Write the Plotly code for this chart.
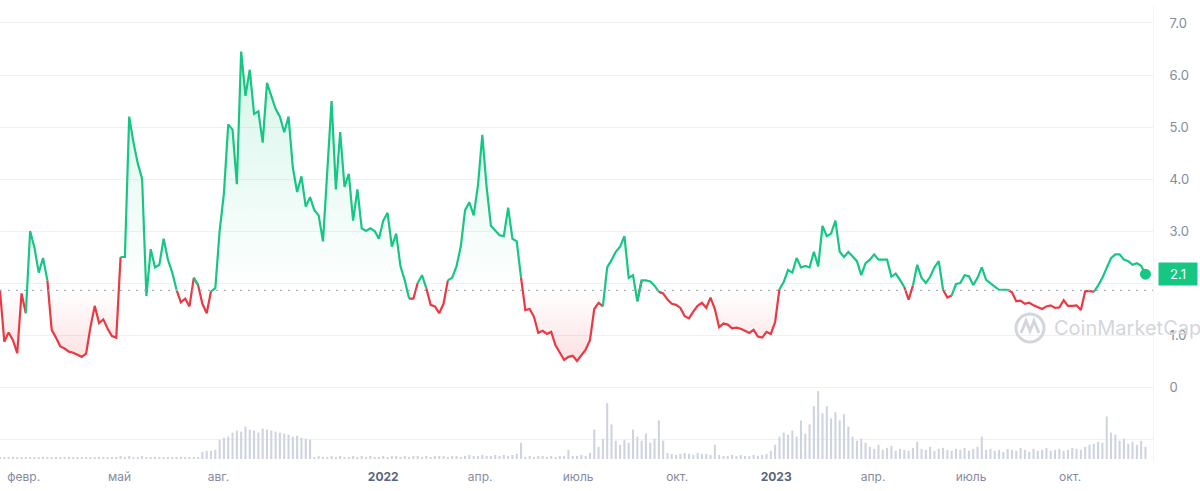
import pandas as pd
import plotly.graph_objects as go

BASE = 1.86
GREEN = "#16c784"
RED = "#ea3943"

# price sampled every 4 days from 2021-01-10
price = [
    1.85, 0.87, 1.05, 0.90, 0.65, 1.80, 1.42, 3.00, 2.68, 2.20,
    2.48, 2.05, 1.10, 0.95, 0.78, 0.74, 0.68, 0.66, 0.62, 0.58,
    0.64, 1.15, 1.56, 1.23, 1.30, 1.12, 0.98, 0.95, 2.50, 2.50,
    5.20, 4.70, 4.30, 4.00, 1.75, 2.65, 2.30, 2.35, 2.85, 2.45,
    2.20, 1.87, 1.63, 1.70, 1.55, 2.10, 1.96, 1.60, 1.42, 1.84,
    1.90, 3.00, 3.73, 5.05, 4.95, 3.90, 6.45, 5.60, 6.10, 5.25,
    5.30, 4.70, 5.85, 5.60, 5.35, 5.20, 4.90, 5.20, 4.22, 3.75,
    4.05, 3.47, 3.65, 3.40, 3.30, 2.80, 4.15, 5.50, 3.80, 4.90,
    3.85, 4.10, 3.20, 3.80, 3.05, 3.00, 3.05, 3.00, 2.85, 3.20,
    3.35, 2.70, 2.95, 2.32, 2.05, 1.70, 1.70, 2.00, 2.15, 1.90,
    1.58, 1.55, 1.42, 1.60, 2.05, 2.10, 2.32, 2.70, 3.40, 3.55,
    3.30, 3.88, 4.85, 3.85, 3.10, 3.02, 2.92, 2.90, 3.45, 2.85,
    2.80, 2.10, 1.48, 1.50, 1.35, 1.04, 1.08, 1.02, 1.06, 0.80,
    0.65, 0.52, 0.58, 0.60, 0.50, 0.60, 0.72, 0.90, 1.50, 1.62,
    1.55, 2.30, 2.44, 2.60, 2.70, 2.90, 2.10, 2.15, 1.65, 2.05,
    2.05, 2.03, 1.95, 1.83, 1.80, 1.68, 1.60, 1.58, 1.52, 1.36,
    1.32, 1.45, 1.56, 1.62, 1.52, 1.72, 1.50, 1.15, 1.22, 1.20,
    1.13, 1.14, 1.12, 1.08, 1.04, 1.10, 0.97, 0.95, 1.06, 1.02,
    1.25, 1.88, 2.02, 2.25, 2.20, 2.48, 2.30, 2.33, 2.30, 2.60,
    2.32, 3.10, 2.90, 2.95, 3.20, 2.60, 2.50, 2.60, 2.50, 2.42,
    2.15, 2.38, 2.45, 2.55, 2.45, 2.45, 2.45, 2.12, 2.18, 2.06,
    1.92, 1.68, 1.95, 2.35, 2.10, 2.00, 2.12, 2.30, 2.42, 1.87,
    1.72, 1.76, 1.98, 2.00, 2.15, 2.13, 1.96, 2.10, 2.30, 2.06,
    1.99, 1.93, 1.87, 1.87, 1.87, 1.82, 1.65, 1.66, 1.60, 1.62,
    1.57, 1.54, 1.50, 1.55, 1.57, 1.52, 1.53, 1.67, 1.56, 1.56,
    1.57, 1.48, 1.84, 1.85, 1.83, 1.95, 2.10, 2.30, 2.48, 2.55,
    2.55, 2.45, 2.42, 2.35, 2.38, 2.33, 2.17,
]

volume = [
    1, 1, 1, 1, 1, 1, 1, 1, 1, 1, 1, 1, 1, 1, 1, 1, 1, 1, 1, 1,
    1, 1, 1, 1, 1, 1,
    2, 2, 3, 2, 3, 2, 2, 3, 2, 2, 2,
    2, 1, 2, 1, 2, 1, 2, 1, 1, 2,
    7, 8, 8, 9,
    19, 21, 22, 26, 28, 27, 32, 29, 28, 26, 30, 29, 28, 27, 26, 25,
    24, 22, 23, 21, 20, 19,
    2, 3, 2, 2, 3, 2, 3, 2, 2, 3, 2, 3, 2, 3, 2, 2, 3, 2, 3, 3,
    2, 3, 2, 3, 3, 2, 3, 2, 3, 3, 3, 2, 3, 3, 2, 3, 4, 3, 3, 4,
    3, 3, 4, 3, 4, 3, 4, 5,
    16,
    2, 3, 2, 3, 3, 2, 3, 2, 3, 3,
    9,
    3, 3, 4, 3,
    6, 29, 12,
    20, 55, 34, 18, 14, 19, 16, 29, 22, 18, 25, 16, 20, 38, 18,
    6, 5, 4, 5, 6, 5, 4, 6, 5, 5, 4,
    14,
    4, 3, 3, 4, 3, 4, 3, 3, 4, 3, 4, 5,
    8, 14, 22, 26, 24, 28, 22, 38, 25, 34, 52, 67, 45, 52, 40, 46,
    38, 44, 32, 22, 18, 20, 16,
    12, 10, 14, 9, 11, 13, 8, 10,
    9, 8, 11, 17, 10, 9, 12, 8, 10, 11, 9, 8, 10,
    9, 11, 8, 10, 12, 22, 9, 10,
    8, 9, 7, 10, 9, 8, 11, 9, 7, 10, 8, 9, 11, 8, 9, 10, 8, 9, 11, 10, 9,
    12, 14, 15, 17,
    16, 42, 26, 24, 18, 20, 15, 17, 14, 18, 12,
]
assert len(price) == len(volume)

dates = pd.date_range("2021-01-10", periods=len(price), freq="4D")

tick_dates = ["2021-02-01", "2021-05-01", "2021-08-01", "2022-01-01", "2022-04-01",
              "2022-07-01", "2022-10-01", "2023-01-01", "2023-04-01", "2023-07-01",
              "2023-10-01"]
tick_labels = ["февр.", "май", "авг.", "2022", "апр.", "июль", "окт.", "2023",
               "апр.", "июль", "окт."]
y_ticks = [-1, 0, 1, 2, 3, 4, 5, 6, 7]
# the 2.0 label sits under the last-price badge, so it is left blank
y_labels = ["", "0", "1.0", "", "3.0", "4.0", "5.0", "6.0", "7.0"]

# plot area in pixels, used for the overlay decorations
PLOT_W, PLOT_TOP, PLOT_BOTTOM = 1153, 5, 462


def px(x):
    return x / PLOT_W


def py(y):
    return (PLOT_BOTTOM - y) / (PLOT_BOTTOM - PLOT_TOP)


def fmt_tick(t):
    if t.isdigit():
        return f"<b><span style='color:#58667e'>{t}</span></b>"
    return t


n = len(price)
seg_up = [(price[i] + price[i + 1]) / 2 >= BASE for i in range(n - 1)]
green_line = [p if (i > 0 and seg_up[i - 1]) or (i < n - 1 and seg_up[i]) else None
              for i, p in enumerate(price)]
red_line = [p if (i > 0 and not seg_up[i - 1]) or (i < n - 1 and not seg_up[i]) else None
            for i, p in enumerate(price)]
upper = [max(p, BASE) for p in price]
lower = [min(p, BASE) for p in price]
base_y = [BASE] * n

fig = go.Figure()
fig.add_trace(go.Scatter(x=dates, y=base_y, mode="lines", line=dict(width=0), hoverinfo="skip"))
fig.add_trace(go.Scatter(
    x=dates, y=upper, mode="lines", line=dict(width=0), fill="tonexty", hoverinfo="skip",
    fillgradient=dict(type="vertical", start=BASE, stop=6.5,
                      colorscale=[[0, "rgba(22,199,132,0.0)"], [1, "rgba(22,199,132,0.18)"]]),
))
fig.add_trace(go.Scatter(x=dates, y=base_y, mode="lines", line=dict(width=0), hoverinfo="skip"))
fig.add_trace(go.Scatter(
    x=dates, y=lower, mode="lines", line=dict(width=0), fill="tonexty", hoverinfo="skip",
    fillgradient=dict(type="vertical", start=0.45, stop=BASE,
                      colorscale=[[0, "rgba(234,57,67,0.16)"], [1, "rgba(234,57,67,0.0)"]]),
))
fig.add_trace(go.Bar(x=dates, y=volume, yaxis="y2", marker=dict(color="#cdd3df", line_width=0),
                     width=1.9 * 86400000, hoverinfo="skip"))
fig.add_trace(go.Scatter(x=dates, y=red_line, mode="lines", line=dict(color=RED, width=2.2),
                         connectgaps=False, hoverinfo="skip"))
fig.add_trace(go.Scatter(x=dates, y=green_line, mode="lines", line=dict(color=GREEN, width=2.2),
                         connectgaps=False, hoverinfo="skip"))
fig.add_trace(go.Scatter(x=[dates[-1]], y=[price[-1]], mode="markers",
                         marker=dict(color=GREEN, size=11), hoverinfo="skip"))

# dotted reference line at the period open price
fig.add_shape(type="line", xref="paper", x0=0, x1=1, yref="y", y0=BASE, y1=BASE,
              line=dict(color="#a9aeb8", width=1.3, dash="2px,6px"))

# watermark
fig.add_shape(type="circle", xref="paper", yref="paper",
              x0=px(1016), x1=px(1044), y0=py(342), y1=py(314),
              line=dict(color="#d3d6dc", width=3))
fig.add_shape(type="path", xref="paper", yref="paper",
              path=(f"M {px(1021)},{py(333)} L {px(1026)},{py(321)} L {px(1030)},{py(331)} "
                    f"L {px(1034)},{py(321)} L {px(1039)},{py(333)}"),
              line=dict(color="#d3d6dc", width=3))
fig.add_annotation(text="CoinMarketCap", xref="paper", yref="paper", x=px(1052), y=py(328),
                   xanchor="left", yanchor="middle", showarrow=False,
                   font=dict(family="Inter", size=20, color="#d3d6dc"))

# last price badge
fig.add_annotation(text="2.1", xref="paper", yref="y", x=px(1158), y=price[-1],
                   xanchor="left", yanchor="middle", showarrow=False,
                   bgcolor=GREEN, width=34, height=18, borderpad=2, align="center",
                   font=dict(family="Inter", size=13, color="white"))

fig.update_layout(
    width=1200, height=491,
    margin=dict(l=0, r=47, t=5, b=29),
    paper_bgcolor="white", plot_bgcolor="white",
    showlegend=False,
    font=dict(family="Inter, sans-serif", color="#858ca2", size=13),
    xaxis=dict(type="date", range=["2021-01-10", "2023-12-17"],
               tickvals=tick_dates, ticktext=[fmt_tick(t) for t in tick_labels],
               showgrid=False, zeroline=False, showline=False, ticks="",
               ticklabelstandoff=6, tickfont=dict(size=12)),
    yaxis=dict(side="right", range=[-1.442, 7.346], tickvals=y_ticks, ticktext=y_labels,
               showgrid=True, gridcolor="#eff1f4", zeroline=False, ticks="",
               ticklabelstandoff=13, showline=True, linecolor="#f4f5f7"),
    yaxis2=dict(overlaying="y", range=[-2.96, 447.3], visible=False),
)

fig.write_html("out.html", config={"displayModeBar": False},
               post_script="document.body.style.margin = '0';")
